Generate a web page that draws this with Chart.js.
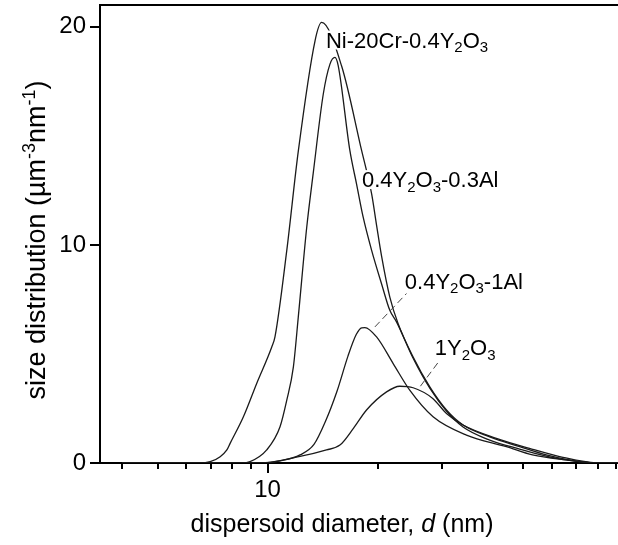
<!DOCTYPE html>
<html>
<head>
<meta charset="utf-8">
<script src="https://cdn.jsdelivr.net/npm/chart.js@4.4.0/dist/chart.umd.min.js"></script>
<style>
  body { margin: 0; background: #fff; }
</style>
</head>
<body>
<canvas id="distChart" width="618" height="545"></canvas>
<script>
// dispersoid diameter (nm) and size distribution (um^-3 nm^-1)
const dAl03 = [4, 6.5, 6.97, 7.42, 7.74, 7.9, 8.59, 9.34, 10.27, 10.48, 11.29, 12.14, 13.49, 14.06, 15.95, 18.09, 19.27, 19.88, 20.51, 21.61, 22.77, 25.03, 27.8, 30.88, 34.28, 40.54, 48.97, 57.9, 65.7, 79.3, 91];
const fAl03 = [0, 0, 0.06, 0.29, 0.6, 0.9, 2.12, 3.65, 5.32, 5.78, 9.75, 14.3, 19.36, 20.2, 18.2, 14.33, 12.34, 10.9, 9.5, 7.61, 6.39, 4.86, 3.49, 2.43, 1.74, 1.2, 0.75, 0.37, 0.17, 0.01, 0];

const dNiCr = [4, 8.5, 8.96, 9.95, 10.82, 11.29, 11.77, 12.14, 12.8, 13.34, 14.21, 14.82, 15.29, 15.61, 16.8, 17.52, 18.27, 19.27, 20.51, 21.61, 22.54, 25.03, 27.8, 30.88, 34.28, 40.54, 48.97, 57.9, 65.7, 79.3, 91];
const fNiCr = [0, 0, 0.06, 0.6, 1.66, 2.88, 4.41, 6.7, 10.8, 13.3, 16.92, 18.29, 18.6, 18.22, 14.33, 12.8, 11.27, 9.75, 8.22, 7.0, 6.47, 4.8, 3.43, 2.38, 1.65, 1.05, 0.64, 0.32, 0.14, 0, 0];

const dAl1 = [4, 9.5, 11.0, 12.27, 13.4, 14.4, 15.5, 16.6, 17.5, 18.1, 18.47, 19.88, 22.07, 24.5, 28.38, 35.02, 45.03, 53.1, 65.7, 79.3, 91];
const fAl1 = [0, 0, 0.12, 0.37, 0.85, 1.9, 3.3, 4.9, 5.9, 6.2, 6.21, 5.78, 4.56, 3.34, 2.12, 1.28, 0.75, 0.37, 0.14, 0, 0];

const dY1 = [4, 9.5, 12.27, 14.5, 15.78, 17.2, 18.66, 21.17, 23.0, 25.03, 28.32, 30.88, 34.28, 42.29, 52.1, 64.3, 79.3, 91];
const fY1 = [0, 0, 0.3, 0.6, 0.82, 1.6, 2.43, 3.26, 3.52, 3.45, 2.96, 2.27, 1.74, 1.13, 0.67, 0.26, 0.01, 0];

const xTicks = [4, 5, 6, 7, 8, 9, 10, 20, 30, 40, 50, 60, 70, 80, 90];
const yTicks = [0, 10, 20];

const FONT = '"Liberation Sans", Arial, sans-serif';

// curve labels: text parts [text, 'sub'|'sup'|'i'|undefined], anchored left/baseline in data units
const curveLabels = [
  { parts: [['Ni-20Cr-0.4Y'], ['2', 'sub'], ['O'], ['3', 'sub']], d: 14.45, f: 19.05 },
  { parts: [['0.4Y'], ['2', 'sub'], ['O'], ['3', 'sub'], ['-0.3Al']], d: 18.13, f: 12.65 },
  { parts: [['0.4Y'], ['2', 'sub'], ['O'], ['3', 'sub'], ['-1Al']], d: 23.75, f: 8.0 },
  { parts: [['1Y'], ['2', 'sub'], ['O'], ['3', 'sub']], d: 28.7, f: 4.94 }
];
const leaders = [
  { from: [19.67, 6.24], to: [24.0, 7.77] },
  { from: [26.2, 3.52], to: [29.6, 4.71] }
];

function toPoints(xs, ys) {
  return xs.map((x, i) => ({ x: x, y: ys[i] }));
}

function partFont(kind, size) {
  if (kind === 'sub' || kind === 'sup') return Math.round(size * 0.68) + 'px ' + FONT;
  if (kind === 'i') return 'italic ' + size + 'px ' + FONT;
  return size + 'px ' + FONT;
}

function richWidth(ctx, parts, size) {
  let w = 0;
  parts.forEach(p => { ctx.font = partFont(p[1], size); w += ctx.measureText(p[0]).width; });
  return w;
}

function drawRich(ctx, parts, x, y, size) {
  ctx.textBaseline = 'alphabetic';
  ctx.textAlign = 'left';
  parts.forEach(p => {
    ctx.font = partFont(p[1], size);
    let dy = 0;
    if (p[1] === 'sub') dy = size * 0.22;
    if (p[1] === 'sup') dy = -size * 0.38;
    ctx.fillText(p[0], x, y + dy);
    x += ctx.measureText(p[0]).width;
  });
}

const decorPlugin = {
  id: 'decor',
  afterDatasetsDraw(chart) {
    const ctx = chart.ctx;
    const area = chart.chartArea;
    const xs = chart.scales.x;
    const ys = chart.scales.y;
    ctx.save();
    ctx.strokeStyle = '#000';
    ctx.fillStyle = '#000';

    // top frame line
    ctx.lineWidth = 2;
    ctx.beginPath();
    ctx.moveTo(area.left - 1, area.top);
    ctx.lineTo(area.right, area.top);
    ctx.stroke();

    // tick marks
    xTicks.forEach(v => {
      const px = Math.round(xs.getPixelForValue(v));
      const len = v === 10 ? 10 : 6;
      ctx.beginPath();
      ctx.moveTo(px, area.bottom);
      ctx.lineTo(px, area.bottom + len);
      ctx.stroke();
    });
    yTicks.forEach(v => {
      const py = Math.round(ys.getPixelForValue(v));
      ctx.beginPath();
      ctx.moveTo(area.left - 10, py);
      ctx.lineTo(area.left, py);
      ctx.stroke();
    });

    // dashed leader lines
    ctx.strokeStyle = '#444';
    ctx.lineWidth = 1;
    ctx.setLineDash([7, 4]);
    leaders.forEach(l => {
      ctx.beginPath();
      ctx.moveTo(xs.getPixelForValue(l.from[0]), ys.getPixelForValue(l.from[1]));
      ctx.lineTo(xs.getPixelForValue(l.to[0]), ys.getPixelForValue(l.to[1]));
      ctx.stroke();
    });
    ctx.setLineDash([]);

    // curve labels on white boxes
    const size = 22;
    curveLabels.forEach(lb => {
      const x = xs.getPixelForValue(lb.d);
      const y = ys.getPixelForValue(lb.f);
      const w = richWidth(ctx, lb.parts, size);
      ctx.fillStyle = '#fff';
      ctx.fillRect(x - 1, y - 17, w + 2, 19);
      ctx.fillStyle = '#000';
      drawRich(ctx, lb.parts, x, y, size);
    });

    // axis titles
    const xTitle = [['dispersoid diameter, '], ['d', 'i'], [' (nm)']];
    const xw = richWidth(ctx, xTitle, 25);
    drawRich(ctx, xTitle, 342 - xw / 2, 532, 25);

    const yTitle = [['size distribution (\u00b5m'], ['-3', 'sup'], ['nm'], ['-1', 'sup'], [')']];
    const yw = richWidth(ctx, yTitle, 27);
    ctx.translate(45, 240);
    ctx.rotate(-Math.PI / 2);
    drawRich(ctx, yTitle, -yw / 2, 0, 27);
    ctx.restore();
  }
};

function lineSet(label, xs, ys) {
  return {
    label: label,
    data: toPoints(xs, ys),
    borderColor: '#1a1a1a',
    borderWidth: 1.3,
    pointRadius: 0,
    fill: false,
    cubicInterpolationMode: 'monotone'
  };
}

const config = {
  type: 'line',
  data: {
    datasets: [
      lineSet('0.4Y2O3-0.3Al', dAl03, fAl03),
      lineSet('Ni-20Cr-0.4Y2O3', dNiCr, fNiCr),
      lineSet('0.4Y2O3-1Al', dAl1, fAl1),
      lineSet('1Y2O3', dY1, fY1)
    ]
  },
  options: {
    responsive: false,
    animation: false,
    layout: { padding: { top: 5, left: 0, right: 0, bottom: 0 } },
    plugins: { legend: { display: false }, tooltip: { enabled: false } },
    scales: {
      x: {
        type: 'logarithmic',
        min: 3.48,
        max: 91,
        afterBuildTicks: scale => { scale.ticks = xTicks.map(v => ({ value: v })); },
        afterFit: scale => { scale.height = 82; scale.paddingLeft = 0; scale.paddingRight = 0; },
        ticks: {
          autoSkip: false,
          maxRotation: 0,
          padding: 3,
          color: '#000',
          font: { family: FONT, size: 24 },
          callback: v => (v === 10 ? '10' : '')
        },
        grid: { drawOnChartArea: false, tickLength: 10, color: 'transparent' },
        border: { display: true, color: '#000', width: 2 }
      },
      y: {
        min: 0,
        max: 21,
        afterBuildTicks: scale => { scale.ticks = yTicks.map(v => ({ value: v })); },
        afterFit: scale => { scale.width = 100; scale.paddingTop = 0; scale.paddingBottom = 0; },
        ticks: {
          padding: 4,
          color: '#000',
          font: { family: FONT, size: 24 },
          callback: v => String(v)
        },
        grid: { drawOnChartArea: false, tickLength: 10, color: 'transparent' },
        border: { display: true, color: '#000', width: 2 }
      }
    }
  },
  plugins: [decorPlugin]
};

window.onload = function () {
  const ctx = document.getElementById('distChart').getContext('2d');
  new Chart(ctx, config);
};
</script>
</body>
</html>
